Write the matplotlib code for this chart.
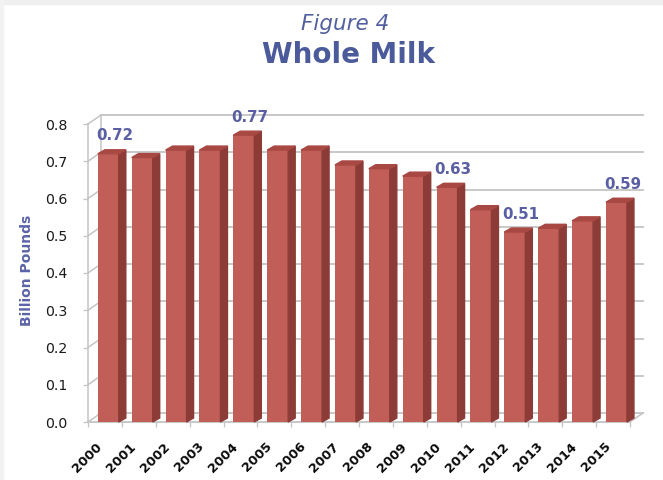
import numpy as np
import matplotlib
matplotlib.use("Agg")
import matplotlib.pyplot as plt
from matplotlib.patches import Polygon, Rectangle

years = ["2000", "2001", "2002", "2003", "2004", "2005", "2006", "2007",
         "2008", "2009", "2010", "2011", "2012", "2013", "2014", "2015"]
values = [0.72, 0.71, 0.73, 0.73, 0.77, 0.73, 0.73, 0.69,
          0.68, 0.66, 0.63, 0.57, 0.51, 0.52, 0.54, 0.59]
labeled = {"2000": "0.72", "2004": "0.77", "2010": "0.63", "2012": "0.51", "2015": "0.59"}
yticks = [0.0, 0.1, 0.2, 0.3, 0.4, 0.5, 0.6, 0.7, 0.8]
ytick_labels = ["0.0", "0.1", "0.2", "0.3", "0.4", "0.5", "0.6", "0.7", "0.8"]

W, H, DPI = 663, 480, 100
fig = plt.figure(figsize=(W / DPI, H / DPI), dpi=DPI)
fig.patch.set_facecolor("white")
fig.patches.append(Rectangle((0, 1 - 4 / H), 1, 4 / H, transform=fig.transFigure,
                             color="#EFEFEF", zorder=0))
fig.patches.append(Rectangle((0, 0), 3 / W, 1, transform=fig.transFigure,
                             color="#F2F2F2", zorder=0))

ax_l, ax_b, ax_w, ax_h = 88, 58, 542, 298  # pixels
ax = fig.add_axes([ax_l / W, ax_b / H, ax_w / W, ax_h / H])
n = len(years)
x = np.arange(n)
ax.set_xlim(-0.5, n - 0.5)
ax.set_ylim(0, 0.8)
for s in ax.spines.values():
    s.set_visible(False)
ax.patch.set_alpha(0)

px_x = n / ax_w
px_y = 0.8 / ax_h

grid_c = "#C4C4C4"
wdx, wdy = 13 * px_x, 9 * px_y
x0, x1 = -0.5, n - 0.5
for yv in yticks:
    ax.plot([x0 + wdx, x1 + wdx], [yv + wdy, yv + wdy], color=grid_c, lw=1.3,
            clip_on=False, zorder=0.5)
    ax.plot([x0, x0 + wdx], [yv, yv + wdy], color=grid_c, lw=1.1,
            clip_on=False, zorder=0.5)
ax.plot([x0, x0], [0, 0.8], color=grid_c, lw=1.1, clip_on=False, zorder=0.5)
ax.plot([x0 + wdx, x0 + wdx], [wdy, 0.8 + wdy], color=grid_c, lw=1.1,
        clip_on=False, zorder=0.5)
ax.plot([x0, x1], [0, 0], color=grid_c, lw=1.3, clip_on=False, zorder=0.5)
ax.plot([x1, x1 + wdx], [0, wdy], color=grid_c, lw=1.1, clip_on=False, zorder=0.5)

shift, bw = 0.1, 0.62
front_c, side_c, top_c = "#C25E58", "#8C3B37", "#A84843"
bars = ax.bar(x + shift, values, width=bw, color=front_c, zorder=3)
bdx, bdy = 7 * px_x, 4 * px_y
for b in bars:
    xl = b.get_x()
    xr = xl + b.get_width()
    v = b.get_height()
    ax.add_patch(Polygon([(xr, 0), (xr + bdx, bdy), (xr + bdx, v + bdy), (xr, v)],
                         closed=True, color=side_c, zorder=3, clip_on=False))
    ax.add_patch(Polygon([(xl, v), (xr, v), (xr + bdx, v + bdy), (xl + bdx, v + bdy)],
                         closed=True, color=top_c, zorder=3, clip_on=False))

lab_c = "#5A5FA3"
for yr, b, v in zip(years, bars, values):
    if yr in labeled:
        ax.annotate(labeled[yr], (b.get_x() + b.get_width() / 2, v),
                    xytext=(6, 18), textcoords="offset pixels",
                    ha="center", va="center", fontsize=10.8, fontweight="bold",
                    color=lab_c, family="DejaVu Sans", zorder=5)

ax.set_yticks(yticks)
ax.set_yticklabels(ytick_labels, fontsize=10.2, color="#1A1A1A", family="DejaVu Sans")
ax.tick_params(axis="y", length=3.5, width=0.9, color=grid_c, pad=11)

ax.set_xticks(x)
ax.set_xticklabels(years, rotation=45, ha="right", va="top", fontsize=9.3,
                   fontweight="bold", color="#0A0A0A", family="DejaVu Sans")
ax.tick_params(axis="x", which="major", length=0, pad=13)
ax.set_xticks(np.arange(n + 1) - 0.5, minor=True)
ax.tick_params(axis="x", which="minor", length=3.5, width=0.9, color=grid_c)

fig.text(27 / W, 1 - 270 / H, "Billion Pounds", rotation=90, ha="center", va="center",
         fontsize=10, fontweight="bold", color="#5B62A8", family="DejaVu Sans")

fig.text(345 / W, 1 - 24 / H, "Figure 4", ha="center", va="center", fontsize=15.5,
         style="italic", color="#52609F", family="DejaVu Sans")
fig.text(349 / W, 1 - 55 / H, "Whole Milk", ha="center", va="center", fontsize=20,
         fontweight="bold", color="#4A5A9B", family="DejaVu Sans")

fig.savefig("out.png", dpi=DPI, facecolor=fig.get_facecolor())
